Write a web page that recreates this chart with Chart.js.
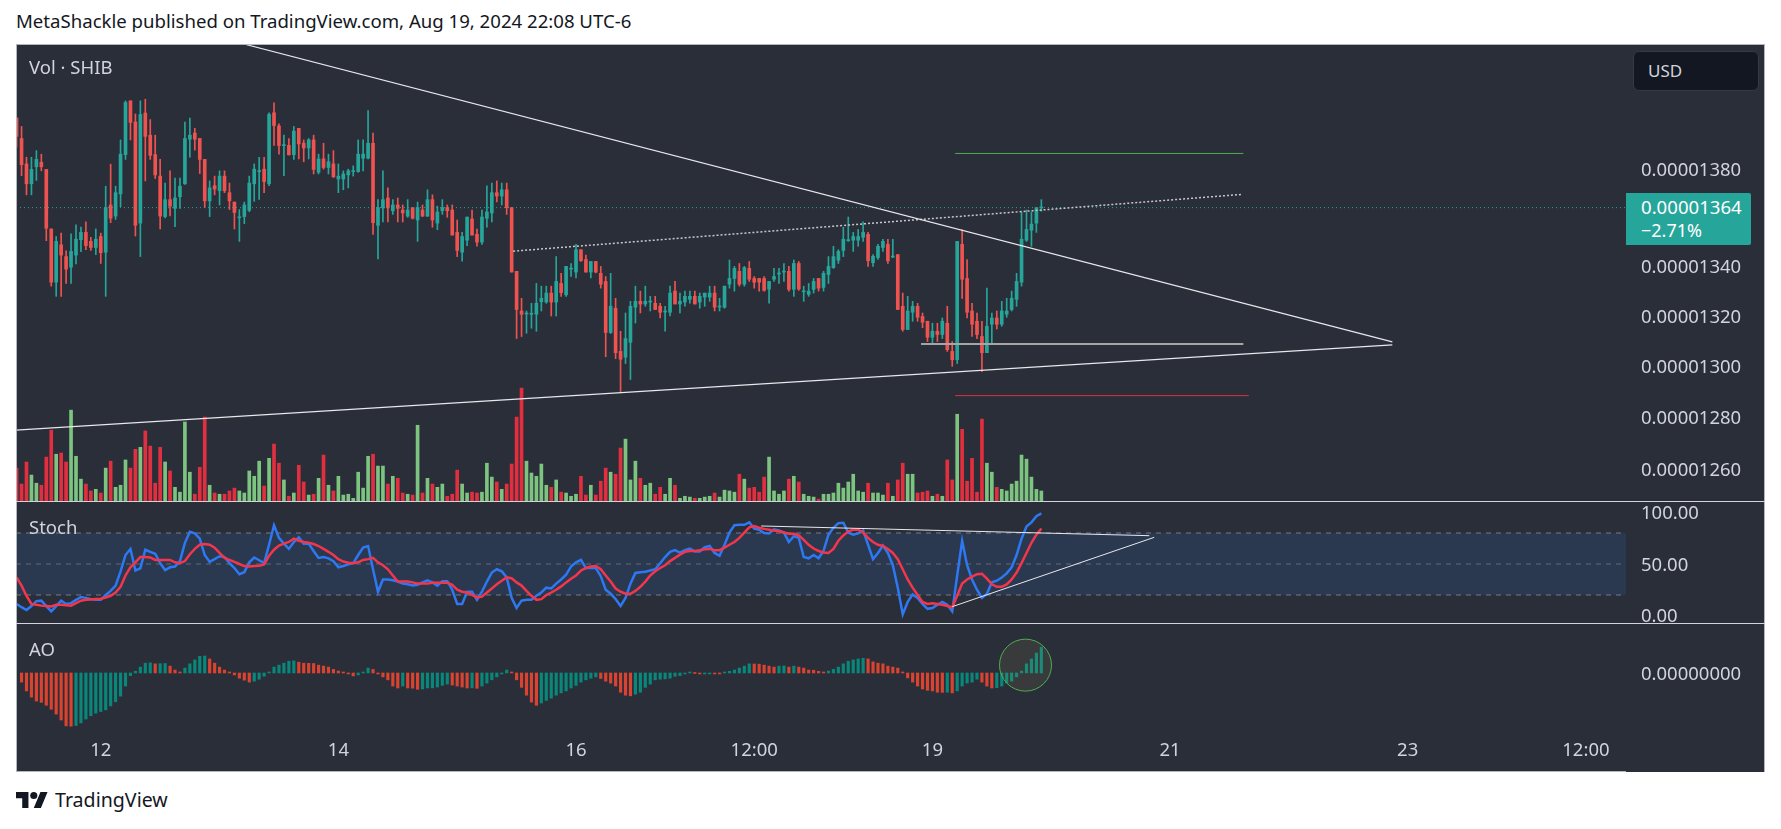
<!DOCTYPE html>
<html>
<head>
<meta charset="utf-8">
<title>SHIB</title>
<script src="https://cdn.jsdelivr.net/npm/chart.js@4/dist/chart.umd.js"></script>
<style>
    html, body { margin: 0; background: #fff; width: 1781px; height: 829px; overflow: hidden; font-family: "Noto Sans", sans-serif; }
    canvas { position: absolute; left: 16px; display: block; }
    #bg { position: absolute; left: 16px; top: 44px; width: 1749px; height: 728px; background: #2a2e39; }
    .txt { position: absolute; white-space: nowrap; line-height: 1; }
    .rule { position: absolute; background: #d1d4dc; }
</style>
</head>
<body>
<div class="txt" id="title" style="left:16px;top:12px;font-size:18.6px;color:#131722">MetaShackle published on TradingView.com, Aug 19, 2024 22:08 UTC-6</div>
<div id="bg"></div>
<canvas id="mainChart" width="1749" height="458" style="top:44px"></canvas>
<canvas id="stochChart" width="1749" height="122" style="top:502px"></canvas>
<canvas id="aoChart" width="1749" height="148" style="top:624px"></canvas>
<div class="rule" style="left:16px;top:44px;width:1749px;height:1px;background:#b2b5be"></div>
<div class="rule" style="left:16px;top:44px;width:1px;height:728px;background:#b2b5be"></div>
<div class="rule" style="left:1764px;top:44px;width:1px;height:728px;background:#b2b5be"></div>
<div class="rule" style="left:16px;top:771px;width:1610px;height:1px;background:#b2b5be"></div>
<div class="rule" style="left:16px;top:501px;width:1749px;height:1px"></div>
<div class="rule" style="left:16px;top:623px;width:1749px;height:1px"></div>
<div class="txt" style="left:29px;top:58px;font-size:18.5px;color:#d1d4dc">Vol · SHIB</div>
<div class="txt" style="left:29px;top:518px;font-size:18.5px;color:#d1d4dc">Stoch</div>
<div class="txt" style="left:29px;top:640px;font-size:18.5px;color:#d1d4dc">AO</div>
<div style="position:absolute;left:1633px;top:51px;width:124px;height:38px;background:#131722;border:1px solid #363a45;border-radius:6px"></div>
<div class="txt" style="left:1648px;top:62px;font-size:17px;color:#d1d4dc">USD</div>
<div style="position:absolute;left:1626px;top:193px;width:125px;height:52px;background:#26a69a;border-radius:0 2px 2px 0"></div>
<div class="txt" style="left:1641px;top:198px;font-size:18.6px;color:#fff">0.00001364</div>
<div class="txt" style="left:1641px;top:221px;font-size:18px;color:#fff">−2.71%</div>
<svg style="position:absolute;left:16px;top:792px" width="32" height="16" viewBox="0 4 36 18"><path fill="#131722" d="M14 22H7V11H0V4h14v18zM28 22h-8l7.5-18h8L28 22z"/><circle fill="#131722" cx="20" cy="8" r="4"/></svg>
<div class="txt" style="left:55px;top:790px;font-size:19.6px;color:#131722">TradingView</div>

<script>
// prices are in units of 0.00000001 USD, one candle per hour
const opens = [
    1401.6,1392.9,1382.2,1373.9,1381.0,1382.9,1379.9,1355.2,1333.5,1348.7,
    1343.9,1339.6,1344.5,1350.8,1353.8,1350.1,1347.6,1352.1,1345.7,1365.1,
    1360.5,1369.7,1386.1,1408.9,1399.9,1357.6,1403.7,1394.3,1386.1,1377.1,
    1360.3,1367.3,1363.7,1368.5,1373.9,1392.6,1395.2,1392.9,1384.1,1366.8,
    1373.1,1371.0,1377.1,1370.2,1366.3,1359.8,1360.3,1362.9,1373.9,1379.0,
    1380.0,1373.9,1403.8,1398.2,1389.9,1390.0,1386.1,1397.2,1390.9,1388.9,
    1392.3,1378.7,1384.3,1380.7,1382.2,1375.9,1375.9,1377.6,1379.0,1379.0,
    1384.6,1384.6,1390.9,1356.7,1363.9,1368.0,1362.7,1365.1,1363.0,1360.5,
    1364.0,1358.9,1363.0,1360.5,1367.3,1357.6,1362.7,1364.0,1363.0,1353.8,
    1345.7,1350.6,1359.3,1353.0,1349.8,1359.6,1361.8,1370.2,1368.8,1371.4,
    1364.0,1337.9,1321.9,1320.7,1320.6,1320.6,1325.6,1325.5,1329.1,1325.5,
    1333.0,1328.4,1338.8,1337.6,1346.7,1342.7,1337.6,1341.9,1337.1,1333.8,
    1313.3,1323.0,1305.8,1303.5,1309.4,1323.4,1325.8,1324.7,1325.5,1325.0,
    1323.8,1321.5,1321.4,1329.9,1324.7,1325.5,1326.6,1327.8,1325.5,1327.5,
    1327.5,1329.1,1323.5,1323.4,1332.7,1335.0,1337.9,1332.7,1339.1,1335.0,
    1335.0,1335.0,1330.7,1334.7,1336.8,1337.6,1337.9,1330.6,1341.1,1329.6,
    1328.6,1330.6,1335.0,1331.4,1336.6,1339.4,1342.4,1346.4,1350.4,1350.6,
    1350.6,1351.8,1353.0,1341.4,1343.5,1347.6,1348.9,1343.7,1344.7,1323.8,
    1314.5,1321.4,1323.8,1319.7,1317.8,1311.4,1313.8,1312.5,1317.0,1305.8,
    1302.5,1348.9,1335.0,1321.9,1317.8,1311.7,1305.3,1316.6,1319.1,1316.6,
    1320.6,1322.5,1326.6,1333.5,1350.6,1354.7,1357.6,1363.9
];
const highs = [
    1401.6,1398.0,1385.0,1385.0,1387.8,1386.3,1379.9,1355.2,1352.1,1353.5,
    1346.2,1353.2,1356.9,1356.0,1358.1,1351.8,1355.2,1353.5,1372.9,1382.1,
    1372.9,1392.3,1408.9,1408.9,1403.3,1408.9,1409.6,1400.9,1394.3,1384.1,
    1374.2,1379.3,1376.3,1376.3,1399.9,1401.6,1397.2,1392.9,1384.1,1375.1,
    1377.1,1379.3,1379.3,1374.2,1366.3,1363.2,1366.3,1377.1,1382.2,1385.0,
    1385.0,1403.8,1408.1,1399.1,1394.3,1392.9,1398.0,1397.2,1392.3,1392.9,
    1394.3,1386.3,1390.9,1386.3,1387.8,1382.2,1379.3,1380.0,1381.4,1392.3,
    1392.3,1404.7,1395.2,1367.3,1379.3,1372.2,1367.3,1368.0,1365.1,1367.3,
    1364.0,1366.3,1365.1,1371.4,1369.3,1364.6,1367.3,1365.1,1365.1,1358.9,
    1353.8,1360.1,1363.0,1355.2,1363.0,1373.1,1374.2,1375.1,1374.2,1374.2,
    1364.0,1337.9,1327.0,1321.9,1325.0,1333.0,1331.9,1331.9,1331.9,1343.9,
    1337.1,1339.9,1341.1,1348.9,1346.7,1344.5,1341.9,1341.9,1339.9,1335.8,
    1337.1,1327.0,1313.8,1321.1,1325.8,1331.9,1329.9,1331.9,1327.8,1327.8,
    1325.0,1323.8,1331.9,1333.8,1329.1,1329.9,1329.9,1329.9,1329.1,1329.1,
    1331.9,1331.9,1327.0,1331.9,1342.5,1339.9,1341.1,1339.9,1341.9,1335.8,
    1335.0,1335.8,1333.8,1339.1,1339.1,1341.1,1339.9,1342.5,1341.9,1331.9,
    1333.0,1335.0,1335.0,1337.9,1343.9,1348.1,1346.7,1355.9,1360.1,1353.8,
    1355.0,1358.1,1353.8,1344.7,1348.9,1351.0,1351.0,1351.0,1344.7,1329.1,
    1327.8,1325.8,1325.0,1321.1,1317.8,1317.0,1317.0,1319.1,1323.8,1309.7,
    1350.1,1355.0,1342.7,1325.0,1321.1,1317.8,1331.1,1321.1,1321.9,1325.8,
    1327.0,1329.9,1337.1,1362.2,1363.0,1362.2,1364.0,1367.3
];
const lows = [
    1389.2,1377.3,1369.3,1369.3,1375.3,1379.3,1350.4,1331.9,1327.8,1327.8,
    1333.0,1333.0,1340.9,1345.9,1346.7,1346.4,1344.7,1341.1,1327.8,1357.8,
    1359.1,1364.4,1384.1,1392.3,1352.3,1343.9,1375.1,1384.1,1376.1,1355.2,
    1359.8,1360.6,1356.1,1363.7,1373.6,1385.0,1388.0,1378.2,1364.0,1360.3,
    1369.3,1365.1,1370.2,1363.2,1355.2,1350.1,1357.4,1362.3,1366.6,1367.4,
    1370.2,1373.1,1390.0,1386.3,1377.3,1386.0,1384.1,1384.3,1383.1,1384.3,
    1378.0,1378.0,1380.0,1378.0,1376.5,1370.2,1371.4,1372.2,1377.1,1378.7,
    1379.3,1384.3,1353.0,1342.9,1358.1,1358.1,1361.2,1358.1,1358.1,1360.0,
    1359.3,1350.1,1360.3,1360.3,1355.9,1354.9,1361.2,1360.0,1352.7,1343.9,
    1342.0,1348.4,1352.7,1348.1,1348.9,1355.9,1358.1,1366.4,1365.1,1361.2,
    1337.6,1310.9,1311.7,1313.0,1315.0,1313.8,1321.9,1325.0,1319.9,1319.9,
    1327.8,1327.8,1335.8,1335.2,1341.9,1337.6,1335.2,1337.3,1331.1,1303.7,
    1312.9,1302.9,1289.7,1301.0,1294.7,1317.1,1321.1,1323.8,1321.9,1322.5,
    1319.1,1313.8,1319.9,1324.7,1321.1,1323.8,1325.0,1324.7,1323.0,1323.8,
    1325.8,1321.9,1321.9,1323.0,1331.1,1329.9,1331.9,1331.9,1333.8,1331.1,
    1329.9,1329.9,1325.0,1333.8,1333.0,1333.8,1329.9,1327.8,1330.2,1325.8,
    1327.8,1329.1,1329.9,1329.9,1333.0,1339.1,1341.1,1343.9,1350.1,1346.0,
    1348.1,1350.1,1339.9,1339.9,1342.7,1346.0,1341.1,1343.5,1322.5,1313.8,
    1314.5,1317.8,1317.8,1315.2,1309.7,1308.6,1309.7,1310.9,1305.8,1299.9,
    1301.0,1327.0,1319.1,1311.7,1310.9,1297.8,1305.3,1308.6,1314.7,1315.8,
    1319.4,1321.9,1323.8,1331.9,1350.1,1348.1,1353.8,1362.5
];
const closes = [
    1393.8,1381.9,1373.9,1379.9,1384.1,1381.0,1355.5,1333.5,1350.1,1344.5,
    1338.8,1346.0,1351.0,1353.8,1348.4,1347.6,1351.0,1345.5,1364.0,1359.6,
    1370.2,1386.3,1408.2,1399.7,1356.7,1403.1,1393.8,1385.8,1377.6,1360.5,
    1367.3,1364.6,1368.0,1372.9,1392.9,1394.3,1392.6,1384.1,1366.8,1372.2,
    1371.7,1377.1,1371.0,1366.8,1362.0,1360.1,1365.1,1374.2,1380.0,1379.3,
    1374.8,1403.1,1398.4,1389.9,1390.2,1386.0,1396.0,1390.6,1388.9,1392.3,
    1379.9,1384.3,1380.7,1383.1,1376.8,1377.1,1378.0,1379.3,1379.3,1386.3,
    1386.3,1390.9,1357.8,1364.0,1367.3,1363.9,1365.1,1363.7,1361.8,1363.0,
    1359.6,1364.0,1360.5,1367.3,1358.9,1362.2,1364.0,1362.7,1352.7,1346.4,
    1352.1,1360.1,1352.7,1349.8,1360.1,1362.2,1370.2,1368.8,1371.4,1364.0,
    1337.6,1322.5,1320.6,1321.1,1320.9,1325.0,1327.0,1329.1,1325.5,1333.8,
    1329.3,1339.9,1339.1,1346.7,1342.2,1337.6,1341.9,1337.6,1332.7,1313.3,
    1323.8,1305.3,1302.7,1310.9,1323.8,1325.8,1324.7,1325.8,1325.8,1322.5,
    1321.4,1321.9,1329.1,1324.7,1325.8,1327.8,1327.8,1324.7,1327.8,1329.1,
    1329.1,1323.4,1323.8,1331.9,1335.0,1339.1,1332.7,1339.4,1334.7,1333.5,
    1333.5,1330.2,1333.8,1335.8,1337.1,1337.9,1330.6,1341.1,1330.7,1329.9,
    1329.9,1333.8,1331.1,1337.1,1339.9,1343.9,1346.0,1351.0,1350.8,1352.1,
    1352.1,1353.8,1342.2,1344.0,1348.1,1350.1,1342.2,1344.0,1322.5,1314.5,
    1321.9,1323.8,1319.4,1317.4,1311.4,1313.8,1312.5,1317.8,1306.5,1302.5,
    1350.1,1334.7,1321.4,1316.6,1312.5,1305.3,1315.8,1319.1,1316.6,1321.9,
    1321.9,1327.0,1333.8,1351.0,1355.0,1357.2,1364.0,1364.2
];
const volumes = [
    81,42,96,64,44,39,108,174,115,118,96,223,110,54,42,25,29,20,81,98,
    34,39,101,81,127,132,172,135,44,132,96,74,34,22,194,71,17,83,206,39,
    20,17,17,25,32,25,20,74,61,98,37,105,140,93,52,12,20,88,47,15,
    17,56,113,39,25,61,15,17,7,71,32,110,115,86,86,42,61,56,20,17,
    15,186,20,56,42,34,42,12,17,76,42,20,22,20,22,93,59,47,29,42,
    91,206,277,98,69,61,91,39,34,52,22,20,12,17,61,15,39,15,49,81,
    71,66,130,152,52,98,56,39,44,17,34,17,56,39,7,12,10,7,7,10,
    12,20,10,27,25,22,66,54,32,34,22,59,108,25,17,25,54,61,47,17,
    12,10,5,17,17,20,44,32,47,66,25,22,44,20,20,15,44,12,52,93,
    66,66,20,22,25,12,17,12,101,52,213,176,49,105,22,201,93,71,34,29,
    25,42,49,113,103,59,29,25
];
const stochK = [
    11.3,8.2,5.4,9.3,14.1,14.5,9.3,4.2,9.3,14.5,11.3,12.1,15.3,18.0,17.2,16.0,15.3,15.3,20.0,23.9,
    29.1,42.9,58.7,64.6,43.7,45.7,63.8,61.8,59.9,50.8,44.1,46.8,47.6,52.8,70.5,81.2,79.6,74.5,58.7,52.0,
    54.7,57.5,56.7,50.8,46.1,40.1,42.1,51.6,56.3,53.6,50.8,68.6,87.5,75.3,69.7,64.6,71.3,75.7,69.7,69.7,
    62.6,55.9,56.7,55.5,52.8,46.8,48.0,49.6,50.8,58.7,65.8,67.4,44.9,23.2,35.0,35.0,34.2,33.0,31.0,30.3,
    29.1,29.9,32.2,34.2,32.2,29.1,33.4,33.4,25.1,11.3,11.3,23.2,23.2,15.3,23.2,33.0,41.7,44.9,42.9,37.0,
    17.2,7.4,14.5,15.3,15.3,19.2,22.4,27.1,26.3,31.0,35.0,39.7,47.6,51.6,53.9,46.1,46.1,46.1,38.2,25.1,
    21.2,16.0,9.3,17.2,31.0,41.3,42.1,42.5,43.7,44.9,50.8,56.7,61.8,63.4,61.1,63.4,65.0,62.2,62.2,66.2,
    67.4,60.7,57.9,68.6,80.4,87.5,87.9,87.9,90.3,84.3,83.2,80.0,79.6,83.6,82.4,80.4,71.3,76.8,75.3,56.7,
    55.5,58.7,55.5,62.6,78.4,85.1,89.5,89.9,80.4,78.4,79.6,82.4,68.6,54.7,60.7,67.8,60.7,48.8,27.1,1.4,
    13.3,20.4,17.2,11.3,6.6,7.4,10.5,13.3,10.5,4.2,38.9,72.5,48.8,35.0,25.1,17.2,21.2,32.2,33.8,37.0,
    40.9,46.8,58.7,74.5,86.3,90.3,96.2,99.0
];
const stochD = [
    37.0,29.1,19.2,11.3,10.5,9.7,9.3,8.9,10.5,10.5,10.1,9.7,12.1,14.5,15.3,15.7,16.0,16.4,17.6,19.2,
    22.4,27.9,38.9,46.8,51.6,56.7,56.7,56.3,53.9,53.9,53.9,53.9,51.6,50.8,52.8,59.5,64.6,68.6,69.3,68.6,
    65.8,60.7,55.9,53.9,52.0,50.0,48.0,47.6,48.0,48.4,49.6,57.9,63.8,67.8,69.7,71.3,74.5,72.5,71.3,70.5,
    69.3,67.4,64.6,61.8,58.7,54.7,52.4,51.2,50.8,51.6,53.9,54.7,55.9,51.6,48.8,44.9,38.9,33.0,33.0,33.0,
    32.2,31.0,31.0,31.0,31.8,31.8,31.8,31.8,29.9,25.1,23.2,22.4,20.0,17.6,18.4,22.4,26.3,30.3,33.8,37.0,
    36.2,32.2,29.1,23.9,19.2,15.3,16.0,20.0,22.4,25.1,28.3,32.2,35.8,38.9,43.7,46.1,47.6,48.0,44.9,38.9,
    33.0,26.3,23.2,21.2,21.2,23.9,27.9,33.0,38.9,42.9,46.1,48.8,52.8,55.9,59.1,61.8,62.6,62.6,63.4,64.2,
    64.6,63.4,63.4,65.8,68.6,71.3,75.3,80.4,85.5,86.7,85.1,84.0,83.2,82.4,81.6,80.4,79.2,79.2,77.6,73.3,
    68.6,65.0,62.6,61.1,60.7,64.6,72.5,77.6,81.6,83.2,83.2,80.4,75.3,71.3,68.6,67.4,64.6,60.7,54.7,44.9,
    35.0,27.1,20.0,13.3,11.3,12.1,11.3,10.5,9.3,8.2,19.2,31.0,35.0,37.8,40.1,40.5,35.8,30.3,27.9,27.9,
    30.3,35.0,41.7,50.8,60.7,70.5,78.4,84.3
];
const aoValues = [
    null,-2.8,-5.5,-7.4,-8.6,-9.0,-9.9,-11.1,-12.6,-14.4,-16.2,-16.3,-16.1,-15.3,-14.1,-13.1,-12.3,-11.8,-11.3,-10.1,
    -8.8,-7.1,-4.0,-0.8,0.5,1.8,3.0,3.1,2.8,2.85,2.9,2.1,0.9,0.3,1.5,2.8,4.0,5.1,5.2,4.3,
    3.0,1.8,0.9,0.3,-0.6,-1.6,-2.2,-2.8,-2.5,-1.9,-1.0,0.3,1.8,2.4,3.0,3.6,3.7,3.3,3.0,2.95,
    2.9,2.4,2.1,1.8,1.1,0.6,0.3,-0.3,-0.9,-0.6,0.3,1.5,1.1,-0.1,-1.2,-2.1,-4.0,-4.6,-4.0,-4.6,
    -4.65,-5.0,-4.9,-4.6,-4.55,-4.3,-3.8,-3.4,-3.7,-4.0,-4.3,-4.6,-4.55,-4.7,-4.0,-3.1,-2.1,-1.2,-0.3,0.9,
    0.3,-2.1,-4.4,-6.8,-8.9,-9.9,-9.2,-8.4,-7.7,-6.8,-6.1,-5.5,-4.6,-3.8,-2.8,-2.1,-1.6,-1.2,-1.7,-2.5,
    -3.1,-4.0,-5.9,-6.8,-7.0,-6.5,-5.9,-4.4,-3.4,-2.1,-1.9,-1.8,-1.6,-1.0,-0.8,-0.3,0.1,0.0,-0.1,-0.1,
    -0.1,-0.15,-0.2,0.1,0.5,0.9,1.5,2.1,2.8,2.75,2.7,2.4,2.1,1.8,2.1,2.15,1.8,2.1,1.8,1.5,
    0.9,0.85,0.5,0.3,0.6,1.1,1.8,2.8,3.6,4.0,4.3,4.5,4.3,3.4,3.0,2.8,2.1,1.8,1.5,0.3,
    -1.5,-2.8,-4.0,-4.9,-5.3,-5.5,-5.9,-5.95,-5.9,-6.1,-5.5,-4.0,-3.1,-2.8,-1.9,-2.8,-4.0,-4.6,-4.5,-4.0,
    -3.1,-2.5,-1.2,0.6,2.8,4.3,6.1,7.9
];

const lastPrice = [1364, 1364];
const priceTicks = [1260, 1280, 1300, 1320, 1340, 1380];
const stochTicks = [0, 50, 100];
const aoTicks = [0];
const timeTicks = [17, 65, 113, 149, 185, 233, 281, 317];
const timeLabels = ['12', '14', '16', '12:00', '19', '21', '23', '12:00'];

// visible range of the time axis, in candles
const xMin = -0.12;
const xMax = 325.1;

// hand drawn lines from the chart: [hour, value] ends
const fallingX = [45.9, 277.9];
const fallingY = [1433.4, 1309.6];
const risingX = [-0.12, 277.9];
const risingY = [1275, 1308.4];
const dottedX = [100.3, 247.6];
const dottedY = [1346.1, 1369.5];
const targetX = [189.6, 247.8];
const targetY = [1386.6, 1386.6];
const stopX = [189.6, 248.9];
const stopY = [1288.4, 1288.4];
const baseX = [182.7, 247.8];
const baseY = [1308.7, 1308.7];
const stochTopX = [150.4, 228.8];
const stochTopY = [86.8, 77.4];
const stochLowX = [189, 229.8];
const stochLowY = [8.7, 75.8];
const aoCircle = { x: 203.8, y: 2.4, r: 26 };

const upColor = '#26a69a';
const downColor = '#ef5350';
const volUp = '#7cc47f';
const volDown = '#e22f40';

const hours = opens.map((_, i) => i);
const isUp = hours.map(i => closes[i] >= opens[i]);
const candleColors = isUp.map(u => u ? upColor : downColor);

const pts = (xs, ys) => xs.map((x, i) => ({ x: x, y: ys[i] }));

const drawing = (xs, ys, color, width, dash) => ({
    type: 'line',
    data: pts(xs, ys),
    borderColor: color,
    borderWidth: width,
    borderDash: dash || [],
    pointRadius: 0,
    tension: 0,
    order: 1
});

const xAxis = {
    type: 'linear',
    display: false,
    min: xMin,
    max: xMax,
    offset: false,
    grid: { display: false }
};

const axisFont = { family: '"Noto Sans"', size: 18.5 };

// same right hand price axis for all three panes
const priceAxis = (tickList, format, extra) => Object.assign({
    position: 'right',
    grid: { display: false, drawTicks: false },
    border: { display: false },
    ticks: {
        color: '#d1d4dc',
        font: axisFont,
        padding: 15,
        labelOffset: 1.5,
        autoSkip: false,
        callback: format
    },
    afterBuildTicks: s => { s.ticks = tickList.map(v => ({ value: v })); },
    afterFit: s => { s.width = 139; s.paddingTop = 0; s.paddingBottom = 0; }
}, extra);

const baseOptions = scales => ({
    responsive: false,
    animation: false,
    devicePixelRatio: 1,
    events: [],
    layout: { padding: 0, autoPadding: false },
    plugins: { legend: { display: false }, tooltip: { enabled: false } },
    scales: scales
});

new Chart(document.getElementById('mainChart'), {
    type: 'bar',
    data: {
        datasets: [
            {
                data: hours.map(i => ({ x: i, y: volumes[i] })),
                yAxisID: 'vol',
                backgroundColor: isUp.map(u => u ? volUp : volDown),
                barThickness: 3,
                grouped: false,
                order: 5
            },
            {
                data: hours.map(i => ({ x: i, y: [lows[i], highs[i]] })),
                backgroundColor: candleColors,
                barThickness: 1,
                grouped: false,
                order: 4
            },
            {
                data: hours.map(i => ({ x: i, y: [opens[i], closes[i]] })),
                backgroundColor: candleColors,
                barThickness: 3,
                minBarLength: 1,
                grouped: false,
                order: 3
            },
            Object.assign(drawing([xMin, xMax], lastPrice, upColor, 1, [1, 3]), { order: 2 }),
            drawing(fallingX, fallingY, '#e8e8ec', 1.2),
            drawing(risingX, risingY, '#e8e8ec', 1.2),
            drawing(dottedX, dottedY, '#c8c8cc', 1.5, [2, 2]),
            drawing(targetX, targetY, '#4caf50', 1),
            drawing(stopX, stopY, '#e22f40', 1),
            drawing(baseX, baseY, '#a5a5a8', 2)
        ]
    },
    options: baseOptions({
        x: xAxis,
        y: priceAxis(priceTicks, v => (v / 1e8).toFixed(8), { type: 'logarithmic', min: 1247.5, max: 1433.4 }),
        vol: { type: 'linear', display: false, min: -2, max: 1120 }
    })
});

new Chart(document.getElementById('stochChart'), {
    type: 'line',
    data: {
        datasets: [
            {
                data: pts([xMin, xMax], [80, 80]),
                borderColor: '#787b86',
                borderWidth: 1,
                borderDash: [5, 5],
                backgroundColor: '#2a3850',
                fill: { value: 20 },
                pointRadius: 0,
                order: 6
            },
            Object.assign(drawing([xMin, xMax], [50, 50], '#666a75', 1, [5, 5]), { order: 5 }),
            Object.assign(drawing([xMin, xMax], [20, 20], '#787b86', 1, [5, 5]), { order: 5 }),
            Object.assign(drawing(hours, stochK, '#2e78f2', 2.5), { order: 3 }),
            Object.assign(drawing(hours, stochD, '#f4364c', 2.5), { order: 2 }),
            drawing(stochTopX, stochTopY, '#e8e8ec', 1),
            drawing(stochLowX, stochLowY, '#e8e8ec', 1)
        ]
    },
    options: baseOptions({
        x: xAxis,
        y: priceAxis(stochTicks, v => v.toFixed(2), { min: -8.08, max: 110 })
    })
});

new Chart(document.getElementById('aoChart'), {
    type: 'bar',
    data: {
        datasets: [
            {
                type: 'bubble',
                data: [aoCircle],
                backgroundColor: 'rgba(200,165,90,0.1)',
                borderColor: '#4caf50',
                borderWidth: 1,
                order: 1
            },
            {
                data: hours.map(i => ({ x: i, y: aoValues[i] })),
                backgroundColor: hours.map(i => (i === 0 || aoValues[i] >= aoValues[i - 1]) ? '#08877a' : '#d9432f'),
                barThickness: 2.5,
                minBarLength: 1,
                grouped: false,
                order: 2
            }
        ]
    },
    options: baseOptions({
        x: Object.assign({}, xAxis, {
            display: true,
            grid: { display: false, drawTicks: false },
            border: { display: false },
            ticks: {
                color: '#d1d4dc',
                font: axisFont,
                padding: 12,
                autoSkip: false,
                maxRotation: 0,
                callback: v => timeLabels[timeTicks.indexOf(v)]
            },
            afterBuildTicks: s => { s.ticks = timeTicks.map(v => ({ value: v })); },
            afterFit: s => { s.height = 44; s.paddingLeft = 0; s.paddingRight = 0; }
        }),
        y: priceAxis(aoTicks, v => (v / 1e8).toFixed(8), { min: -16.85, max: 15 })
    })
});
</script>
</body>
</html>
